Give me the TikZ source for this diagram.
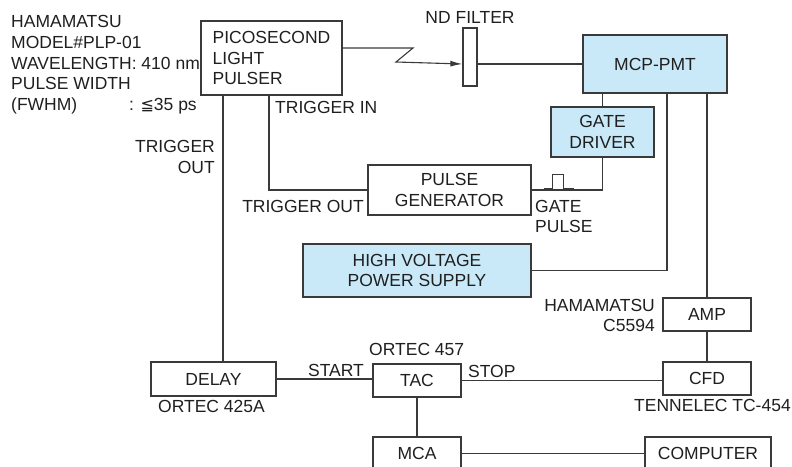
\documentclass[tikz,border=0pt]{standalone}
\usepackage{fontspec}
\setmainfont{Liberation Sans}
\newfontfamily\symfont{DejaVu Sans}
\usetikzlibrary{arrows.meta, positioning, calc}
\definecolor{unitblue}{HTML}{C9E9F8}
\definecolor{wire}{HTML}{3A3A3A}

\begin{document}
\begin{tikzpicture}[
    x=1pt, y=-1pt,
    font=\fontsize{17.5}{20.8}\selectfont,
    every node/.style={text=black!88},
    unit/.style={
        rectangle, draw=wire, line width=1.3pt,
        inner sep=0pt, align=center
    },
    hot/.style={unit, fill=unitblue},
    lbl/.style={inner sep=1pt, align=left},
    wirel/.style={draw=wire, line width=1.1pt},
    beam/.style={wirel, -{Latex[length=12pt, width=6pt]}},
]
\useasboundingbox (0,0) rectangle (792,466);

% Row 1: light source, filter, detector
\node[unit, minimum width=141pt, minimum height=74pt, align=left] (pulser) at (271.5, 58)
    {PICOSECOND\\LIGHT\\PULSER};
\node[unit, minimum width=14pt, minimum height=58pt] (ndf) at (470, 57) {};
\node[hot, minimum width=144pt, minimum height=58pt] (mcp) at (655, 64) {MCP-PMT};

% Row 2: gating and high voltage
\node[hot, minimum width=103pt, minimum height=50pt] (gate) at (602.5, 132) {GATE\\DRIVER};
\node[unit, minimum width=163pt, minimum height=50pt] (pgen) at (449.5, 190) {PULSE\\GENERATOR};
\node[hot, minimum width=228pt, minimum height=53pt] (hv) at (417, 270.5) {HIGH VOLTAGE\\POWER SUPPLY};

% Row 3: timing electronics
\node[unit, minimum width=88pt, minimum height=33pt] (amp) at (707, 314.5) {AMP};
\node[unit, minimum width=125pt, minimum height=34pt] (delay) at (213.5, 379) {DELAY};
\node[unit, minimum width=88pt, minimum height=33pt] (tac) at (417, 380.5) {TAC};
\node[unit, minimum width=88pt, minimum height=33pt] (cfd) at (707, 378.5) {CFD};
\node[unit, minimum width=88pt, minimum height=33pt] (mca) at (417, 453.5) {MCA};
\node[unit, minimum width=126pt, minimum height=33pt] (computer) at (708, 453.5) {COMPUTER};

% Labels
\node[lbl, anchor=north west] (spec) at (10, 14)
    {HAMAMATSU\\MODEL\#PLP-01\\WAVELENGTH: 410 nm\\PULSE WIDTH\\\makebox[118pt][l]{(FWHM)}: {\symfont\fontsize{16}{20}\selectfont ≦}35 ps};
\node[lbl, anchor=west] (trigin) at (274, 107) {TRIGGER IN};
\node[lbl, anchor=east, align=right] (trigout) at (216, 157) {TRIGGER\\OUT};
\node[lbl, anchor=east] (trigout2) at (365, 206) {TRIGGER OUT};
\node[lbl] (ndflbl) at (470, 17) {ND FILTER};
\node[lbl, anchor=west] (gatepulse) at (534, 216.5) {GATE\\PULSE};
\node[lbl, anchor=east, align=right] (ampmodel) at (656, 315.5) {HAMAMATSU\\C5594};
\node[lbl, anchor=west] (tacmodel) at (368, 349) {ORTEC 457};
\node[lbl, below=2pt of delay, xshift=-2pt] (delaymodel) {ORTEC 425A};
\node[lbl, below=2pt of cfd, xshift=5.5pt] (cfdmodel) {TENNELEC TC-454};

% Light path
\draw[beam] ([yshift=10pt]pulser.east) -- (413, 48) -- (396, 62) -- (ndf.west |- mcp.west);
\draw[wirel] (ndf.east |- mcp.west) -- (mcp.west);

% Trigger and gate signals
\draw[wirel] ([xshift=-2.5pt]pulser.south) |- (pgen.west);
\draw[wirel] ([xshift=9.5pt]delay.north) -- ([xshift=9.5pt]delay.north |- pulser.south);
\draw[wirel] (gate.north) -- (gate.north |- mcp.south);
\draw[wirel] (gate.south) |- (pgen.east);
\draw[draw=wire, line width=1pt] ([shift={(12pt,2pt)}]pgen.east) -- ++(9pt,0) -- ++(0,14pt)
    -- ++(11pt,0) -- ++(0,-14pt) -- ++(10pt,0);
\draw[wirel] ([xshift=12pt]mcp.south) |- (hv.east);
\draw[wirel] (amp.north) -- (amp.north |- mcp.south);

% Timing chain
\draw[wirel] (amp.south) -- (cfd.north);
\draw[wirel] (delay.east) -- node[pos=0.62, above, inner sep=2pt] {START} (delay.east -| tac.west);
\draw[wirel] (tac.east) -- node[pos=0.15, above, inner sep=2pt] {STOP} (tac.east -| cfd.west);
\draw[wirel] (tac.south) -- (mca.north);
\draw[wirel] (mca.east) -- (mca.east -| computer.west);

\end{tikzpicture}
\end{document}
